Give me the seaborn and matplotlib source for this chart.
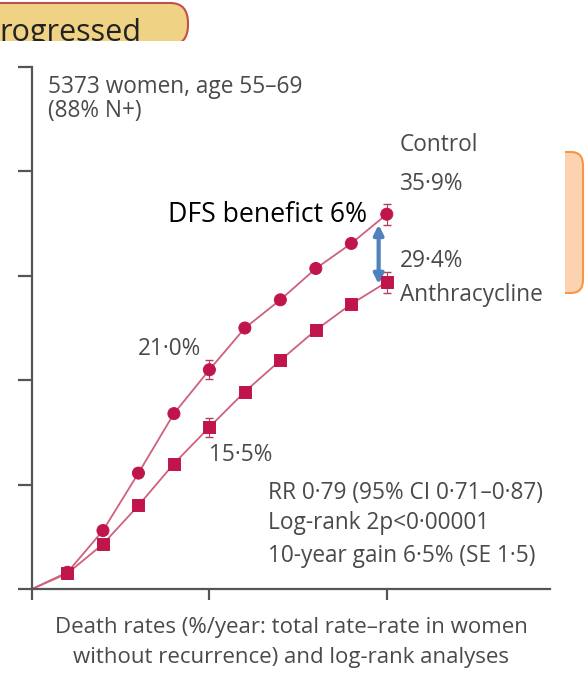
import matplotlib
matplotlib.use("Agg")
import matplotlib.pyplot as plt
from matplotlib.patches import FancyBboxPatch, Rectangle
import seaborn as sns
import pandas as pd

# data (years since randomisation, % with recurrence)
years = [0, 1, 2, 3, 4, 5, 6, 7, 8, 9, 10]
control = [0, 1.6, 5.6, 11.1, 16.8, 21.0, 25.0, 27.7, 30.7, 33.1, 35.9]
anthra = [0, 1.5, 4.3, 8.0, 12.0, 15.5, 18.9, 21.9, 24.8, 27.3, 29.4]
err_years = [5, 10]
control_err = [21.0, 35.9]
anthra_err = [15.5, 29.4]
err_size = [0.9, 1.0]
y_ticks = [0, 10, 20, 30, 40, 50]
x_ticks = [0, 5, 10]

df = pd.DataFrame({"year": years * 2,
                   "pct": control + anthra,
                   "arm": ["Control"] * len(years) + ["Anthracycline"] * len(years)})
pts = df[df["year"] > 0]

W, H = 587, 673
fig = plt.figure(figsize=(W / 100, H / 100), dpi=100)
fig.patch.set_facecolor("white")

def px(x, y):
    # pixel (from top-left) -> figure fraction
    return x / W, 1 - y / H

# yellow "Progressed" box partly hidden behind the chart
x0, y0 = px(-20, 45)
x1, y1 = px(188, 3)
fig.patches.append(FancyBboxPatch((x0, y0), x1 - x0, y1 - y0,
                                  boxstyle="round,pad=0,rounding_size=0.03",
                                  transform=fig.transFigure, facecolor="#efd283",
                                  edgecolor="#c0504d", lw=1.5, zorder=0))
fig.text(*px(-1, 41), "rogressed", fontsize=22, color="#222222",
         family="Open Sans", va="baseline", zorder=1)

# orange box on the right
x0, y0 = px(540, 293)
x1, y1 = px(583, 152)
fig.patches.append(FancyBboxPatch((x0, y0), x1 - x0, y1 - y0,
                                  boxstyle="round,pad=0,rounding_size=0.02",
                                  transform=fig.transFigure, facecolor="#fcd3b0",
                                  edgecolor="#f79646", lw=1.5, zorder=0))

# white chart screenshot covering both boxes
x0, y0 = px(0, 673)
x1, y1 = px(565, 41)
fig.patches.append(Rectangle((x0, y0), x1 - x0, y1 - y0, transform=fig.transFigure,
                             facecolor="white", edgecolor="none", zorder=2))

ax = fig.add_axes([32 / W, 1 - 589 / H, (550 - 32) / W, (589 - 67) / H])
ax.set_facecolor("none")
ax.set_zorder(3)

line_c = "#d0607c"
mark_c = "#c0154a"
sns.lineplot(data=df, x="year", y="pct", hue="arm", palette=[line_c, line_c],
             lw=1.3, legend=False, ax=ax)
sns.scatterplot(data=pts, x="year", y="pct", style="arm",
                markers={"Control": "o", "Anthracycline": "s"},
                color=mark_c, s=75, edgecolor=mark_c, legend=False, ax=ax, zorder=4)
ax.errorbar(err_years, control_err, yerr=err_size, fmt="none", ecolor="#b04060",
            capsize=3, lw=0.8, zorder=3)
ax.errorbar(err_years, anthra_err, yerr=err_size, fmt="none", ecolor="#b04060",
            capsize=3, lw=0.8, zorder=3)

ax.set_xlim(0, 14.6)
ax.set_ylim(0, 50)
ax.set_xticks(x_ticks)
ax.set_yticks(y_ticks)
ax.set_xticklabels([])
ax.set_yticklabels([])
ax.tick_params(axis="x", direction="out", length=8, width=1.6, color="#555555")
ax.tick_params(axis="y", direction="out", length=10, width=1.6, color="#555555")
for s in ["top", "right"]:
    ax.spines[s].set_visible(False)
for s in ["left", "bottom"]:
    ax.spines[s].set_color("#555555")
    ax.spines[s].set_linewidth(1.6)
ax.set_xlabel("")
ax.set_ylabel("")

gray = "#4a4a4a"
tf = dict(color=gray, family="Open Sans", fontsize=16.3, va="center", ha="left")
ax.text(0.45, 48.1, "5373 women, age 55–69", **tf)
ax.text(0.45, 45.8, "(88% N+)", **tf)
ax.text(10.37, 42.5, "Control", **tf)
ax.text(10.37, 38.8, "35·9%", **tf)
ax.text(10.37, 31.4, "29·4%", **tf)
ax.text(10.37, 28.2, "Anthracycline", **tf)
ax.text(2.99, 23.0, "21·0%", **tf)
ax.text(5.0, 12.8, "15·5%", **tf)
ax.text(6.65, 9.2, "RR 0·79 (95% CI 0·71–0·87)", **tf)
ax.text(6.65, 6.3, "Log-rank 2p<0·00001", **tf)
ax.text(6.65, 3.2, "10-year gain 6·5% (SE 1·5)", **tf)

ax.text(3.83, 35.8, "DFS benefict 6%", color="black", family="Open Sans",
        fontsize=19.2, va="center", ha="left")
ax.annotate("", xy=(9.77, 34.9), xytext=(9.77, 29.2),
            arrowprops=dict(arrowstyle="<|-|>", color="#4f81bd", lw=3,
                            mutation_scale=14, shrinkA=0, shrinkB=0))

fig.text(*px(291, 627), "Death rates (%/year: total rate–rate in women",
         color=gray, family="Open Sans", fontsize=16, ha="center", va="center", zorder=5)
fig.text(*px(291, 657), "without recurrence) and log-rank analyses",
         color=gray, family="Open Sans", fontsize=16, ha="center", va="center", zorder=5)

fig.savefig("out.png", dpi=100)
